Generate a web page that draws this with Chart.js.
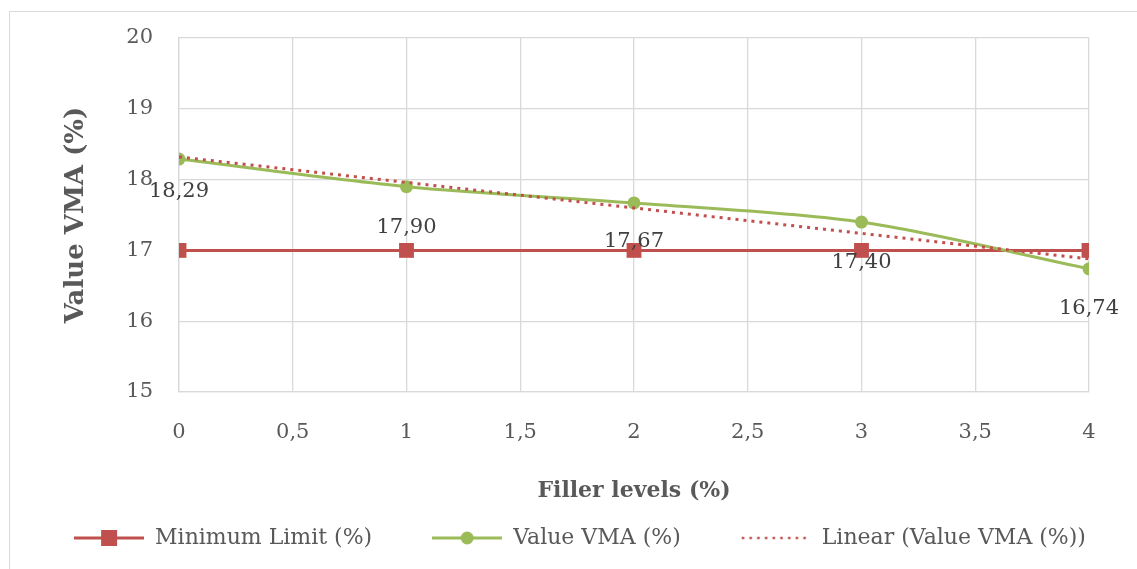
<!DOCTYPE html>
<html lang="en">
<head>
    <meta charset="UTF-8">
    <title>Value VMA vs Filler levels</title>
    <style>
        html, body {
            margin: 0;
            padding: 0;
            background: #fff;
            overflow: hidden;
        }
        #chart-box {
            position: absolute;
            left: 9px;
            top: 11px;
            width: 1140px;
            height: 558px;
            border-left: 1px solid #d9d9d9;
            border-top: 1px solid #d9d9d9;
        }
    </style>
    <script src="https://cdn.jsdelivr.net/npm/chart.js"></script>
</head>
<body>
    <div id="chart-box">
        <canvas id="vmaChart"></canvas>
    </div>

    <script>
        // values
        const fillerLevels = [0, 1, 2, 3, 4];
        const minimumLimit = [17, 17, 17, 17, 17];
        const valueVMA = [18.29, 17.90, 17.67, 17.40, 16.74];
        const trendX = [0, 4];
        const trendY = [18.32, 16.88];
        const seriesNames = ['Minimum Limit (%)', 'Value VMA (%)', 'Linear (Value VMA (%))'];

        const RED = '#c0504d';
        const GREEN = '#9bbb59';
        const FONT = "'DejaVu Serif', serif";

        // label offsets under each point (px)
        const labelDy = [32, 41, 39, 40, 40];

        function toPoints(xs, ys) {
            return xs.map((x, i) => ({ x: x, y: ys[i] }));
        }

        function fmt(v, digits) {
            return v.toFixed(digits).replace('.', ',');
        }

        // little legend symbols: line with a marker in the middle
        function legendSymbol(kind) {
            const c = document.createElement('canvas');
            c.width = 70;
            c.height = 18;
            const g = c.getContext('2d');
            g.lineWidth = 3;
            if (kind === 'dot') {
                g.strokeStyle = RED;
                g.lineWidth = 2.5;
                g.setLineDash([2.5, 5.2]);
                g.beginPath();
                g.moveTo(1, 9);
                g.lineTo(70, 9);
                g.stroke();
                return c;
            }
            g.strokeStyle = kind === 'rect' ? RED : GREEN;
            g.beginPath();
            g.moveTo(0, 9);
            g.lineTo(70, 9);
            g.stroke();
            if (kind === 'rect') {
                g.fillStyle = RED;
                g.fillRect(27, 1, 16, 16);
            } else {
                g.fillStyle = GREEN;
                g.beginPath();
                g.arc(35, 9, 6.5, 0, Math.PI * 2);
                g.fill();
            }
            return c;
        }

        const symbols = [legendSymbol('rect'), legendSymbol('circle'), legendSymbol('dot')];

        const dataLabels = {
            id: 'dataLabels',
            afterDatasetsDraw(chart) {
                const meta = chart.getDatasetMeta(1);
                const ctx = chart.ctx;
                ctx.save();
                ctx.font = '21px ' + FONT;
                ctx.fillStyle = '#404040';
                ctx.textAlign = 'center';
                ctx.textBaseline = 'middle';
                meta.data.forEach((pt, i) => {
                    ctx.fillText(fmt(valueVMA[i], 2), pt.x, pt.y + labelDy[i]);
                });
                ctx.restore();
            }
        };

        const ctx = document.getElementById('vmaChart').getContext('2d');
        new Chart(ctx, {
            type: 'line',
            data: {
                datasets: [{
                    label: seriesNames[0],
                    data: toPoints(fillerLevels, minimumLimit),
                    borderColor: RED,
                    backgroundColor: RED,
                    borderWidth: 3,
                    pointStyle: 'rect',
                    pointRadius: 10.5,
                    pointBorderWidth: 0,
                    order: 2
                }, {
                    label: seriesNames[1],
                    data: toPoints(fillerLevels, valueVMA),
                    borderColor: GREEN,
                    backgroundColor: GREEN,
                    borderWidth: 3,
                    pointStyle: 'circle',
                    pointRadius: 6.5,
                    pointBorderWidth: 0,
                    tension: 0.3,
                    order: 1
                }, {
                    label: seriesNames[2],
                    data: toPoints(trendX, trendY),
                    borderColor: RED,
                    borderWidth: 3,
                    borderDash: [3, 5],
                    pointRadius: 0,
                    order: 0
                }]
            },
            options: {
                responsive: true,
                maintainAspectRatio: false,
                animation: false,
                layout: { padding: { left: 0, right: 0, top: 26, bottom: 11 } },
                plugins: {
                    tooltip: { enabled: false },
                    legend: {
                        position: 'bottom',
                        labels: {
                            usePointStyle: true,
                            pointStyleWidth: 70,
                            padding: 60,
                            color: '#595959',
                            font: { family: FONT, size: 22 },
                            generateLabels(chart) {
                                return chart.data.datasets.map((ds, i) => ({
                                    text: ds.label,
                                    pointStyle: symbols[i],
                                    fontColor: '#595959',
                                    datasetIndex: i,
                                    hidden: false,
                                    lineWidth: 0
                                }));
                            }
                        }
                    }
                },
                scales: {
                    x: {
                        type: 'linear',
                        min: 0,
                        max: 4,
                        ticks: {
                            stepSize: 0.5,
                            padding: 28,
                            color: '#595959',
                            font: { family: FONT, size: 21 },
                            callback: (v) => String(v).replace('.', ',')
                        },
                        grid: { color: '#d9d9d9', lineWidth: 1.3, drawTicks: false },
                        border: { color: '#d9d9d9', width: 1.3 },
                        title: {
                            display: true,
                            text: 'Filler levels (%)',
                            color: '#595959',
                            font: { family: FONT, size: 22, weight: 'bold' },
                            padding: { top: 0, bottom: -37 }
                        },
                        afterFit(scale) { scale.height = 75; }
                    },
                    y: {
                        min: 15,
                        max: 20,
                        ticks: {
                            stepSize: 1,
                            padding: 0,
                            color: '#595959',
                            font: { family: FONT, size: 21 }
                        },
                        // invisible tick marks give the label gap without adding top padding
                        grid: { color: '#d9d9d9', lineWidth: 1.3, drawTicks: true, tickLength: 26, tickColor: 'rgba(0,0,0,0)' },
                        border: { color: '#d9d9d9', width: 1.3 },
                        title: {
                            display: true,
                            text: 'Value VMA (%)',
                            color: '#595959',
                            font: { family: FONT, size: 26, weight: 'bold' },
                            padding: { top: 51, bottom: 0 }
                        },
                        afterFit(scale) { scale.width = 169; }
                    },
                    // empty right-hand axis, keeps space on the right without shifting the legend
                    yRight: {
                        position: 'right',
                        min: 15,
                        max: 20,
                        grid: { display: false },
                        border: { display: false },
                        ticks: { display: false },
                        afterFit(scale) { scale.width = 61; }
                    }
                }
            },
            plugins: [dataLabels]
        });
    </script>
</body>
</html>
